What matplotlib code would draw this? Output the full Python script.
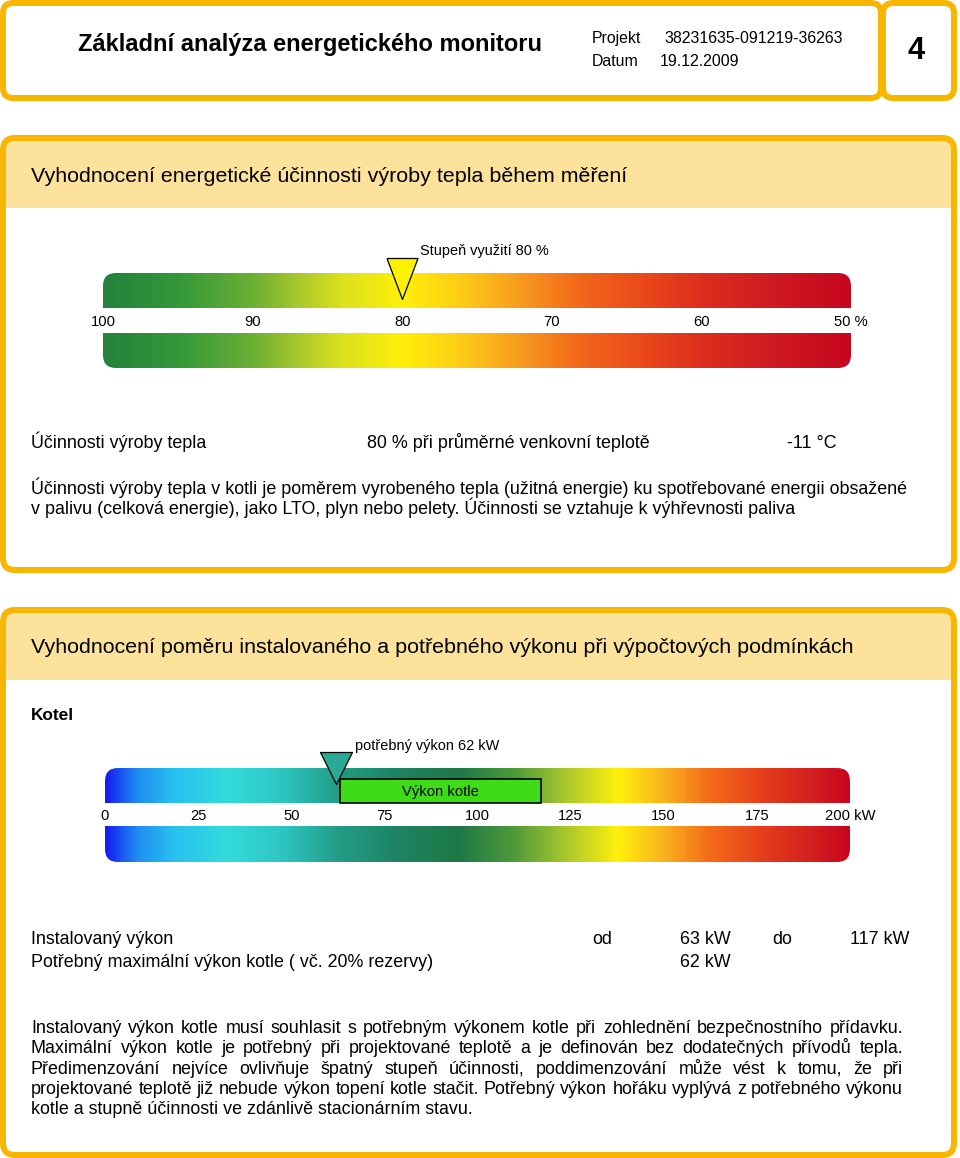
import matplotlib
matplotlib.use('Agg')
import matplotlib.pyplot as plt
from matplotlib.patches import FancyBboxPatch, Rectangle
from matplotlib.colors import LinearSegmentedColormap
import numpy as np

plt.rcParams['font.family'] = ['Liberation Sans', 'DejaVu Sans']

# ---------------- data ----------------
doc_title = "Základní analýza energetického monitoru"
project_label = "Projekt"
project_id = "38231635-091219-36263"
date_label = "Datum"
date_value = "19.12.2009"
page_no = "4"

sec1_title = "Vyhodnocení energetické účinnosti výroby tepla během měření"
eff_ticks = [100, 90, 80, 70, 60, 50]
eff_tick_labels = ["100", "90", "80", "70", "60", "50 %"]
eff_value = 80
eff_marker_label = "Stupeň využití 80 %"
eff_grad_pos = [100, 95, 90, 87, 84, 80, 76, 72, 68, 64, 60, 55, 50]
eff_grad_colors = ["#23823C", "#349838", "#6CAF34", "#A8C82C", "#DCE21C", "#FFF00A",
                   "#FDCB16", "#F89A1E", "#F2661A", "#EA4A1A", "#DC2E1E", "#CE1A22", "#C6061E"]
eff_row_label = "Účinnosti výroby tepla"
eff_row_value = "80 % při průměrné venkovní teplotě"
eff_row_temp = "-11 °C"
sec1_text = ["Účinnosti výroby tepla v kotli je poměrem vyrobeného tepla (užitná energie) ku spotřebované energii obsažené",
             "v palivu (celková energie), jako LTO, plyn nebo pelety. Účinnosti se vztahuje k výhřevnosti paliva"]

sec2_title = "Vyhodnocení poměru instalovaného a potřebného výkonu při výpočtových podmínkách"
sec2_sub = "Kotel"
pow_ticks = [0, 25, 50, 75, 100, 125, 150, 175, 200]
pow_tick_labels = ["0", "25", "50", "75", "100", "125", "150", "175", "200 kW"]
pow_required = 62
pow_marker_label = "potřebný výkon 62 kW"
pow_installed_from = 63
pow_installed_to = 117
pow_box_label = "Výkon kotle"
pow_grad_pos = [0, 8, 18, 32, 48, 62, 78, 95, 110, 124, 138, 150, 162, 176, 190, 200]
pow_grad_colors = ["#141EF0", "#1E8CF0", "#28C0F0", "#32DCDC", "#2EC4C0", "#229E88",
                   "#1E8464", "#1E7846", "#4E9A3A", "#AAC82C", "#FFF00A", "#FAB41C",
                   "#F46E1A", "#E6401C", "#D2201E", "#C8061E"]
inst_label = "Instalovaný výkon"
inst_from_label = "od"
inst_from_val = "63 kW"
inst_to_label = "do"
inst_to_val = "117 kW"
req_label = "Potřebný maximální výkon kotle ( vč. 20% rezervy)"
req_val = "62 kW"
sec2_text = ["Instalovaný výkon kotle musí souhlasit s potřebným výkonem kotle při zohlednění bezpečnostního přídavku.",
             "Maximální výkon kotle je potřebný při projektované teplotě a je definován bez dodatečných přívodů tepla.",
             "Předimenzování nejvíce ovlivňuje špatný stupeň účinnosti, poddimenzování může vést k tomu, že při",
             "projektované teplotě již nebude výkon topení kotle stačit. Potřebný výkon hořáku vyplývá z potřebného výkonu",
             "kotle a stupně účinnosti ve zdánlivě stacionárním stavu."]
sec2_justify = [True, True, True, True, False]

# ---------------- style ----------------
W, H = 960, 1158
ORANGE = "#F8B600"
BAND = "#FDE29C"
BORDER_LW = 6 * 0.72

fig = plt.figure(figsize=(W / 100, H / 100), dpi=100)
bg = fig.add_axes([0, 0, 1, 1])
bg.set_xlim(0, W)
bg.set_ylim(H, 0)
bg.axis('off')
renderer = fig.canvas.get_renderer()


def px_axes(x0, y0, x1, y1):
    ax = fig.add_axes([x0 / W, 1 - y1 / H, (x1 - x0) / W, (y1 - y0) / H])
    ax.axis('off')
    return ax


def box(x0, y0, x1, y1, r=10, band=None):
    bg.add_patch(FancyBboxPatch((x0, y0), x1 - x0, y1 - y0,
                                boxstyle=f"round,pad=0,rounding_size={r}",
                                fc='white', ec='none', zorder=1))
    if band is not None:
        by0, by1 = band
        bg.add_patch(FancyBboxPatch((x0, by0), x1 - x0, by1 - by0,
                                    boxstyle=f"round,pad=0,rounding_size={r}",
                                    fc=BAND, ec='none', zorder=2))
        bg.add_patch(Rectangle((x0, by0 + r), x1 - x0, by1 - by0 - r,
                               fc=BAND, ec='none', zorder=2))
    bg.add_patch(FancyBboxPatch((x0, y0), x1 - x0, y1 - y0,
                                boxstyle=f"round,pad=0,rounding_size={r}",
                                fc='none', ec=ORANGE, lw=BORDER_LW, zorder=3))


def fit_fs(s, target, weight='normal', base=20):
    t = bg.text(0, 0, s, fontsize=base, weight=weight)
    w = t.get_window_extent(renderer).width
    t.remove()
    return base * target / w


def txt(x, y, s, fs, weight='normal', ha='left', **kw):
    return bg.text(x, y, s, fontsize=fs, weight=weight, ha=ha, va='baseline',
                   color='black', zorder=5, **kw)


def paragraph(lines, x0, x1, y0, dy, fs, justify):
    for i, line in enumerate(lines):
        y = y0 + i * dy
        if not justify[i]:
            txt(x0, y, line, fs)
            continue
        words = line.split(' ')
        ts, ws = [], []
        for w in words:
            t = txt(0, y, w, fs)
            ts.append(t)
            ws.append(t.get_window_extent(renderer).width)
        gap = (x1 - x0 - sum(ws)) / (len(words) - 1)
        x = x0
        for t, w in zip(ts, ws):
            t.set_x(x)
            x += w + gap


def gradient_bar(x0, y0, x1, y1, gap0, gap1, vmin, vmax, pos, cols):
    ax = px_axes(x0, y0, x1, y1)
    ax.set_xlim(vmin, vmax)
    ax.set_ylim(y1, y0)
    fr = [(p - vmin) / (vmax - vmin) for p in pos]
    cmap = LinearSegmentedColormap.from_list("g", list(zip(fr, cols)))
    img = cmap(np.linspace(0, 1, 1000))[None, :, :]
    im = ax.imshow(img, extent=(vmin, vmax, y1, y0), aspect='auto', interpolation='bilinear')
    clip = FancyBboxPatch((x0, y0), x1 - x0, y1 - y0,
                          boxstyle="round,pad=0,rounding_size=13",
                          transform=bg.transData)
    im.set_clip_path(clip)
    ax.add_patch(Rectangle((vmin, gap0), vmax - vmin, gap1 - gap0, fc='white', ec='none', zorder=2))
    ax.set_xlim(vmin, vmax)
    ax.set_ylim(y1, y0)
    return ax


def tri_marker(height, half_w):
    return [(-half_w, height), (half_w, height), (0, 0), (-half_w, height)]


# ---------------- header ----------------
box(3, 3, 881, 98, r=10)
box(883, 3, 954, 98, r=10)
fs_title = fit_fs(doc_title, 464, 'bold')
txt(78, 51, doc_title, fs_title, 'bold')
fs_small = fit_fs(project_id, 178)
txt(592, 43, project_label, fs_small)
txt(664, 43, project_id, fs_small)
txt(592, 66, date_label, fs_small)
txt(660, 66, date_value, fs_small)
txt(916, 59, page_no, fs_title * 1.3, 'bold', ha='center')

# ---------------- section 1 ----------------
box(3, 138, 954, 570, r=12, band=(138, 208))
fs_sec = fit_fs(sec1_title, 595)
txt(31, 182, sec1_title, fs_sec)

ax1 = gradient_bar(103, 273, 851, 368, 308, 333, 100, 50, eff_grad_pos, eff_grad_colors)
fs_tick = fit_fs("38231635", 66)
for t, lab in zip(eff_ticks, eff_tick_labels):
    ax1.text(t, 326, lab, fontsize=fs_tick, ha='center', va='baseline', zorder=5)
ax1.plot([eff_value], [299], marker=tri_marker(41, 15.5), ms=2 * 41 * 0.72,
         mfc="#FFF200", mec='black', mew=0.9, clip_on=False, zorder=6, ls='none')
fs_lab = fit_fs(eff_marker_label, 128)
txt(420, 255, eff_marker_label, fs_lab)

fs_body = fit_fs(req_label, 400)
txt(31, 448, eff_row_label, fs_body)
txt(367, 448, eff_row_value, fs_body)
txt(787, 448, eff_row_temp, fs_body)
paragraph(sec1_text, 31, 903, 494, 20.5, fs_body, [False, False])

# ---------------- section 2 ----------------
box(3, 610, 954, 1155, r=12, band=(610, 680))
txt(31, 653, sec2_title, fs_sec)
txt(31, 720, sec2_sub, fit_fs(sec2_sub, 43, 'bold'), 'bold')

ax2 = gradient_bar(105, 768, 850, 862, 803, 826, 0, 200, pow_grad_pos, pow_grad_colors)
for t, lab in zip(pow_ticks, pow_tick_labels):
    ax2.text(t, 820, lab, fontsize=fs_tick, ha='center', va='baseline', zorder=5)
ax2.add_patch(Rectangle((pow_installed_from, 779), pow_installed_to - pow_installed_from, 24,
                        fc="#3EDC16", ec='black', lw=1.2, zorder=4))
ax2.text((pow_installed_from + pow_installed_to) / 2, 796, pow_box_label, fontsize=fs_tick,
         ha='center', va='baseline', zorder=5)
ax2.plot([pow_required], [784], marker=tri_marker(32, 16), ms=2 * 32 * 0.72,
         mfc="#2AAA94", mec='black', mew=0.9, clip_on=False, zorder=6, ls='none')
txt(355, 750, pow_marker_label, fs_lab)

txt(31, 944, inst_label, fs_body)
txt(592, 944, inst_from_label, fs_body)
txt(680, 944, inst_from_val, fs_body)
txt(772, 944, inst_to_label, fs_body)
txt(850, 944, inst_to_val, fs_body)
txt(31, 967, req_label, fs_body)
txt(680, 967, req_val, fs_body)
paragraph(sec2_text, 31, 903, 1033, 20.3, fs_body, sec2_justify)

fig.savefig("out.png", dpi=100)
